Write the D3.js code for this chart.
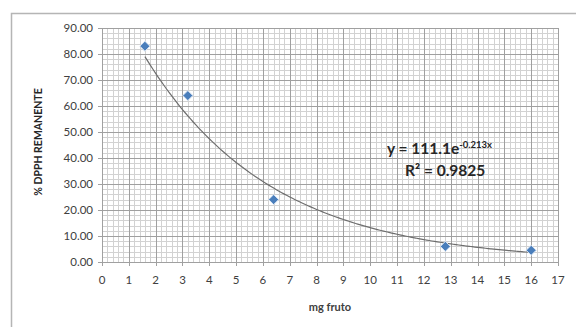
<!DOCTYPE html>
<html>
<head>
<meta charset="utf-8">
<script src="https://cdn.jsdelivr.net/npm/d3@7"></script>
<style>
  body { margin: 0; background: #fff; }
  text { font-family: Lato, "Open Sans", sans-serif; }
</style>
</head>
<body>
<div id="chart"></div>
<script>
// data
const mgFruto = [1.6, 3.2, 6.4, 12.8, 16];
const dpphRemanente = [83, 64, 24, 6, 4.5];
const xTicks = d3.range(0, 18);
const yTicks = [0, 10, 20, 30, 40, 50, 60, 70, 80, 90];
// exponential trend shown on the chart: y = a * e^(b x)
const trendA = 111.1;
const trendB = -0.213;
const trendLabel = { eq: 'y = 111.1e', exp: '-0.213x', r2: 'R\u00b2 = 0.9825' };

const dims = { width: 576, height: 327 };
const margins = { left: 102, right: 18, top: 28, bottom: 65 };

const svg = d3.select('div#chart')
  .append('svg')
  .attr('width', dims.width)
  .attr('height', dims.height);

// outer chart border (runs off the right/bottom edges)
svg.append('rect')
  .attr('x', 11.5).attr('y', 13.5)
  .attr('width', 600).attr('height', 400)
  .attr('fill', 'none')
  .attr('stroke', '#b5b5b5')
  .attr('stroke-width', 1.5);

const xScale = d3.scaleLinear()
  .domain([0, 17])
  .range([margins.left, dims.width - margins.right]);

const yScale = d3.scaleLinear()
  .domain([0, 90])
  .range([dims.height - margins.bottom, margins.top]);

const g = svg.append('g');

// minor grid
const xMinor = d3.range(0, 17.001, 0.2);
const yMinor = d3.range(0, 90.001, 2);
g.append('g').selectAll('line')
  .data(xMinor)
  .join('line')
  .attr('x1', d => Math.round(xScale(d)) + 0.5)
  .attr('x2', d => Math.round(xScale(d)) + 0.5)
  .attr('y1', yScale(0)).attr('y2', yScale(90))
  .attr('stroke', '#d2d2d2').attr('stroke-width', 1);
g.append('g').selectAll('line')
  .data(yMinor)
  .join('line')
  .attr('y1', d => Math.round(yScale(d)) + 0.5)
  .attr('y2', d => Math.round(yScale(d)) + 0.5)
  .attr('x1', xScale(0)).attr('x2', xScale(17))
  .attr('stroke', '#d2d2d2').attr('stroke-width', 1);

// major grid
g.append('g').selectAll('line')
  .data(xTicks)
  .join('line')
  .attr('x1', d => Math.round(xScale(d)) + 0.5)
  .attr('x2', d => Math.round(xScale(d)) + 0.5)
  .attr('y1', yScale(0) + 4).attr('y2', yScale(90))
  .attr('stroke', '#a0a0a0').attr('stroke-width', 1);
g.append('g').selectAll('line')
  .data(yTicks)
  .join('line')
  .attr('y1', d => Math.round(yScale(d)) + 0.5)
  .attr('y2', d => Math.round(yScale(d)) + 0.5)
  .attr('x1', xScale(0) - 4).attr('x2', xScale(17))
  .attr('stroke', '#a0a0a0').attr('stroke-width', 1);

// tick labels
g.append('g').selectAll('text')
  .data(yTicks)
  .join('text')
  .attr('x', xScale(0) - 9)
  .attr('y', d => yScale(d) + 4)
  .attr('text-anchor', 'end')
  .attr('font-size', 11.5)
  .attr('fill', '#404040')
  .text(d => d.toFixed(2));

g.append('g').selectAll('text')
  .data(xTicks)
  .join('text')
  .attr('x', d => xScale(d))
  .attr('y', yScale(0) + 22)
  .attr('text-anchor', 'middle')
  .attr('font-size', 11.5)
  .attr('fill', '#404040')
  .text(d => d);

// axis titles
svg.append('text')
  .attr('transform', `translate(42,${(yScale(0) + yScale(90)) / 2 - 3}) rotate(-90)`)
  .attr('text-anchor', 'middle')
  .attr('font-size', 10.5)
  .attr('font-weight', 'bold')
  .attr('fill', '#262626')
  .text('% DPPH REMANENTE');

svg.append('text')
  .attr('x', (xScale(0) + xScale(17)) / 2)
  .attr('y', 311)
  .attr('text-anchor', 'middle')
  .attr('font-size', 11)
  .attr('font-weight', 'bold')
  .attr('fill', '#404040')
  .text('mg fruto');

// trend line
const xExtent = d3.extent(mgFruto);
const trendX = d3.range(xExtent[0], xExtent[1] + 0.001, 0.1);
const line = d3.line()
  .x(d => xScale(d))
  .y(d => yScale(trendA * Math.exp(trendB * d)))
  .curve(d3.curveMonotoneX);
g.append('path')
  .datum(trendX)
  .attr('d', line)
  .attr('fill', 'none')
  .attr('stroke', '#6e6e6e')
  .attr('stroke-width', 1.2);

// points
const diamond = d3.symbol().type(d3.symbolDiamond2).size(64);
g.append('g').selectAll('path')
  .data(mgFruto.map((x, i) => ({ x, y: dpphRemanente[i] })))
  .join('path')
  .attr('transform', d => `translate(${xScale(d.x)},${yScale(d.y)})`)
  .attr('d', diamond)
  .attr('fill', '#4a7ebb')
  .attr('stroke', '#dbe6f4')
  .attr('stroke-width', 1);

// equation label
const eq = svg.append('text')
  .attr('x', 387)
  .attr('y', 154)
  .attr('font-size', 15.5)
  .attr('font-weight', 'bold')
  .attr('fill', '#262626');
eq.append('tspan').text(trendLabel.eq);
eq.append('tspan')
  .attr('font-size', 9.5)
  .attr('dy', -6)
  .text(trendLabel.exp);

svg.append('text')
  .attr('x', 405)
  .attr('y', 176)
  .attr('font-size', 15.5)
  .attr('font-weight', 'bold')
  .attr('fill', '#262626')
  .text(trendLabel.r2);
</script>
</body>
</html>
